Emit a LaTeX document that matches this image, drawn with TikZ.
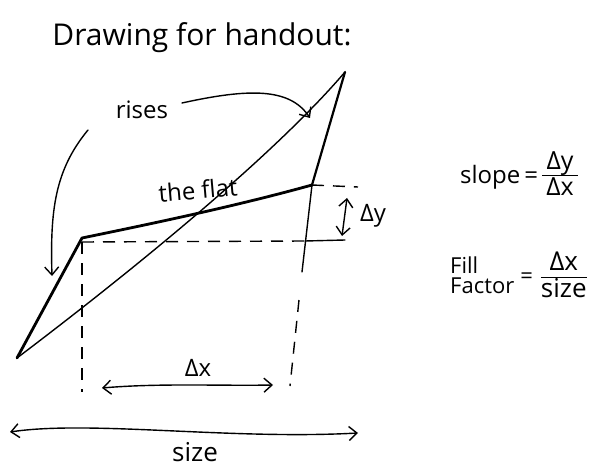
\documentclass[tikz,border=0pt]{standalone}
\usepackage{fontspec}
\setmainfont{Open Sans}
\usetikzlibrary{arrows.meta}
\begin{document}
\begin{tikzpicture}[x=1pt,y=-1pt,
  thinline/.style={line width=1.4pt, line cap=round, line join=round},
  thickline/.style={line width=2.8pt, line cap=round, line join=round},
  guide/.style={line width=1.4pt, dash pattern=on 12pt off 9pt},
  arr/.style={line width=1.4pt, line cap=round, -{Straight Barb[length=8pt,width=14pt]}},
  darr/.style={line width=1.4pt, line cap=round, {Straight Barb[length=8pt,width=14pt]}-{Straight Barb[length=8pt,width=14pt]}},
  lbl/.style={inner sep=0pt, font=\fontsize{24}{28}\selectfont}
]
\useasboundingbox[fill=white] (0,0) rectangle (603,468);

% key points of the curve
\coordinate (A) at (17,358);
\coordinate (B) at (82,238);
\coordinate (C) at (312,185);
\coordinate (D) at (345,72);

% title
\node[lbl, font=\fontsize{30}{34}\selectfont] (title) at (202,38) {Drawing for handout:};

% curve
\draw[thickline] (A) -- (B) .. controls (160,222) and (240,205) .. (C);
\draw[line width=2.2pt, line cap=round] (C) -- (D);
\draw[thinline] (A) .. controls (120,280) and (270,160) .. (D);

% guides
\coordinate (Bd) at (82,242);
\coordinate (Bbot) at (82,392);
\coordinate (Rmid) at (305,241);
\coordinate (Rend) at (345,240);
\coordinate (Ctop) at (358,187);
\coordinate (Rlow) at (302,272);
\coordinate (Rdash) at (299,300);
\coordinate (Rbot) at (290,386);
\draw[guide] (Bd) -- (Rmid);
\draw[thinline] (Rmid) -- (Rend);
\draw[guide] (C) -- (Ctop);
\draw[guide] (Bd) -- (Bbot);
\draw[thinline] (C) -- (Rlow);
\draw[guide] (Rdash) -- (Rbot);

% labels
\node[lbl] (rises) at (142,110) {rises};
\node[lbl, rotate=5] (flat) at (198,190) {the flat};
\node[lbl, font=\fontsize{24}{28}\selectfont] (dy) at (373,216) {Δy};
\node[lbl] (dx) at (198,368) {Δx};
\node[lbl, font=\fontsize{26}{30}\selectfont] (size) at (195,452) {size};

% rises arrows
\coordinate (r1) at (182,103);
\coordinate (r1e) at (310,118);
\coordinate (r2) at (88,130);
\coordinate (r2e) at (52,276);
\draw[arr] (r1) .. controls (250,88) and (290,88) .. (r1e);
\draw[arr] (r2) .. controls (55,170) and (50,210) .. (r2e);

% dy arrow
\coordinate (dyt) at (347,198);
\coordinate (dyb) at (342,236);
\draw[darr] (dyt) -- (dyb);

% dx arrow
\coordinate (dxl) at (102,388);
\coordinate (dxr) at (273,385);
\draw[darr] (dxl) .. controls (160,383) and (220,386) .. (dxr);

% size arrow
\coordinate (sl) at (10,432);
\coordinate (sr) at (358,433);
\draw[darr] (sl) .. controls (90,420) and (230,440) .. (sr);

% formulas
\node[lbl, font=\fontsize{24}{28}\selectfont, anchor=west] (slope) at (460,177)
  {slope\,=\,$\vcenter{\hbox{\fontsize{25}{28}\selectfont\begin{tabular}{@{\,}c@{\,}}Δy\\[-3pt]\hline Δx\end{tabular}}}$};
\node[lbl, font=\fontsize{22}{25}\selectfont, anchor=west] (fill) at (450,278)
  {$\vcenter{\hbox{\begin{tabular}{@{}l@{}}Fill\\[-5pt]Factor\end{tabular}}}$\hspace{6pt}=\hspace{8pt}$\vcenter{\hbox{\fontsize{26}{29}\selectfont\begin{tabular}{@{}c@{}}Δx\\[-2pt]\hline size\end{tabular}}}$};
\end{tikzpicture}
\end{document}
